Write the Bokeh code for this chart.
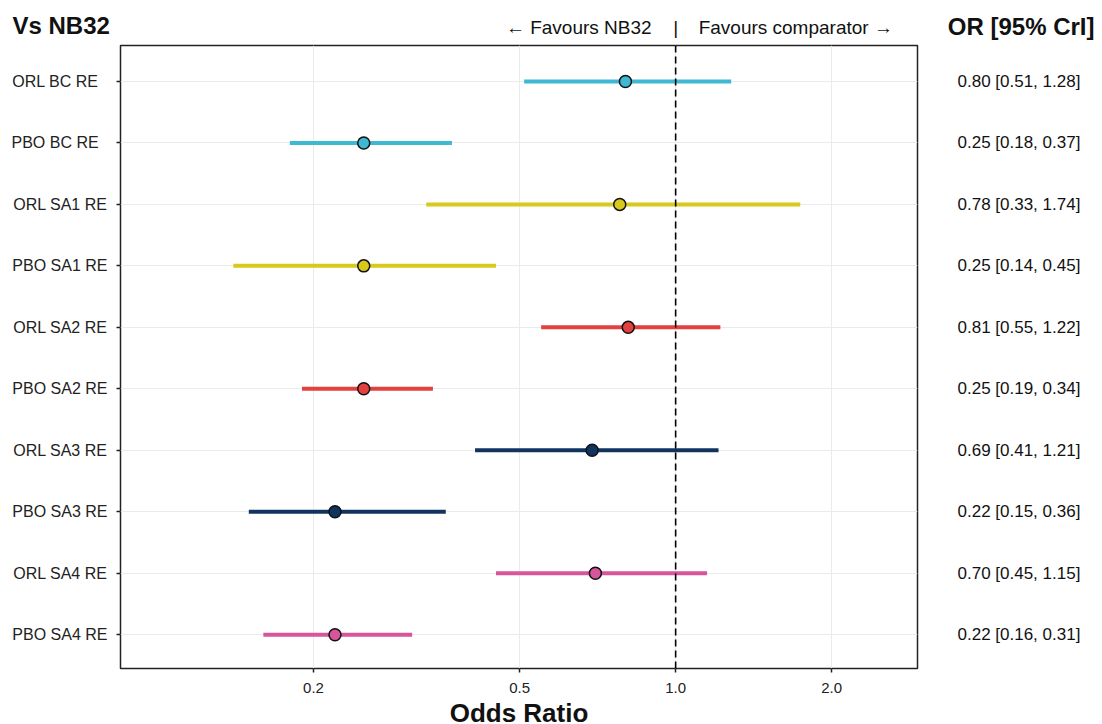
import math
from bokeh.plotting import figure
from bokeh.layouts import column, row
from bokeh.models import Range1d, FixedTicker, ColumnDataSource, Span
from bokeh.core.properties import value
from bokeh.embed import file_html
from bokeh.resources import INLINE

labels = ["ORL BC RE  ", "PBO BC RE  ", "ORL SA1 RE", "PBO SA1 RE", "ORL SA2 RE",
          "PBO SA2 RE", "ORL SA3 RE", "PBO SA3 RE", "ORL SA4 RE", "PBO SA4 RE"]
or_vals = [0.80, 0.25, 0.78, 0.25, 0.81, 0.25, 0.69, 0.22, 0.70, 0.22]
lo_vals = [0.51, 0.18, 0.33, 0.14, 0.55, 0.19, 0.41, 0.15, 0.45, 0.16]
hi_vals = [1.28, 0.37, 1.74, 0.45, 1.22, 0.34, 1.21, 0.36, 1.15, 0.31]
groups = ["BC", "BC", "SA1", "SA1", "SA2", "SA2", "SA3", "SA3", "SA4", "SA4"]
group_colors = {"BC": "#3FB8D2", "SA1": "#D8CA1C", "SA2": "#E3413F",
                "SA3": "#10345F", "SA4": "#D6559B"}
x_ticks = [0.2, 0.5, 1.0, 2.0]
x_tick_labels = ["0.2", "0.5", "1.0", "2.0"]
title_text = "Vs NB32"
col_header = "OR [95% CrI]"
left_header = "\u2190 Favours NB32"
right_header = "Favours comparator \u2192"
x_title = "Odds Ratio"

FONT = "Liberation Sans"
n = len(labels)
ys = [n - i for i in range(n)]

# geometry (pixels)
TOTAL_W, HEAD_H, MAIN_H, FOOT_H = 1100, 43, 658, 23
B_LEFT, B_RIGHT_MAIN, B_TOP, B_BOTTOM = 120, 2, 2, 33
MAIN_W = 919
RIGHT_W = TOTAL_W - MAIN_W
FRAME_W = MAIN_W - B_LEFT - B_RIGHT_MAIN

X_LO, X_HI = 0.0848, 2.93
Y_LO, Y_HI = 0.45, n + 0.585

src = ColumnDataSource(dict(
    y=ys, orv=or_vals, lo=lo_vals, hi=hi_vals,
    color=[group_colors[g] for g in groups],
    txt=[f"{o:.2f} [{l:.2f}, {h:.2f}]" for o, l, h in zip(or_vals, lo_vals, hi_vals)],
))

# ---------------- main plot ----------------
p = figure(width=MAIN_W, height=MAIN_H, x_axis_type="log",
           x_range=Range1d(X_LO, X_HI), y_range=Range1d(Y_LO, Y_HI),
           output_backend="svg", toolbar_location=None,
           min_border_left=B_LEFT, min_border_right=B_RIGHT_MAIN,
           min_border_top=B_TOP, min_border_bottom=B_BOTTOM)
p.outline_line_color = "#222222"
p.outline_line_width = 1.5
p.border_fill_color = "white"

p.xaxis.ticker = FixedTicker(ticks=x_ticks)
p.xaxis.major_label_overrides = {t: s for t, s in zip(x_ticks, x_tick_labels)}
p.yaxis.ticker = FixedTicker(ticks=ys)
p.yaxis.major_label_overrides = {y: l for y, l in zip(ys, labels)}
for ax in (p.xaxis[0], p.yaxis[0]):
    ax.axis_line_color = None
    ax.major_tick_line_color = "#222222"
    ax.major_tick_line_width = 1.5
    ax.major_tick_out = 4
    ax.major_tick_in = 0
    ax.minor_tick_line_color = None
    ax.major_label_text_font = FONT
    ax.major_label_text_color = "#222222"
p.yaxis.major_label_text_font_size = "16px"
p.xaxis.major_label_text_font_size = "15px"
p.xaxis.major_label_standoff = 10
p.yaxis.major_label_standoff = 9

p.xgrid.ticker = FixedTicker(ticks=x_ticks)
p.xgrid.grid_line_color = "#EBEBEB"
p.ygrid.ticker = FixedTicker(ticks=ys)
p.ygrid.grid_line_color = "#EBEBEB"

p.add_layout(Span(location=1.0, dimension="height", line_color="black",
                  line_dash="7 4", line_width=1.6))
p.segment(x0="lo", x1="hi", y0="y", y1="y", source=src, line_color="color", line_width=4)
p.scatter(x="orv", y="y", source=src, size=12, fill_color="color",
          line_color="#111111", line_width=1.5)

# ---------------- right column (values) ----------------
r = figure(width=RIGHT_W, height=MAIN_H,
           x_range=Range1d(0, RIGHT_W), y_range=p.y_range,
           output_backend="svg", toolbar_location=None,
           x_axis_location=None, y_axis_location=None,
           min_border_left=0, min_border_right=0,
           min_border_top=B_TOP, min_border_bottom=B_BOTTOM)
r.outline_line_color = None
r.grid.visible = False
r.text(x=38, y="y", text="txt", source=src, text_font=value(FONT),
       text_font_size="17px", text_color="#111111",
       text_baseline="middle", text_align="left")

# ---------------- header row ----------------
lpd = math.log10(X_HI / X_LO) / FRAME_W  # decades per pixel
h_lo = 10 ** (math.log10(X_LO) - B_LEFT * lpd)
h_hi = 10 ** (math.log10(X_HI) + (TOTAL_W - B_LEFT - FRAME_W) * lpd)
h = figure(width=TOTAL_W, height=HEAD_H, x_axis_type="log",
           x_range=Range1d(h_lo, h_hi), y_range=Range1d(0, HEAD_H),
           output_backend="svg", toolbar_location=None,
           x_axis_location=None, y_axis_location=None,
           min_border_left=0, min_border_right=0, min_border_top=0, min_border_bottom=0)
h.outline_line_color = None
h.grid.visible = False

def px(x_pixel):
    return 10 ** (math.log10(h_lo) + x_pixel * lpd)

h.text(x=[px(12)], y=[HEAD_H - 25], text=[title_text], text_font=value(FONT),
       text_font_style="bold", text_font_size="24px", text_color="#111111",
       text_baseline="middle", text_align="left")
h.text(x=[px(1094)], y=[HEAD_H - 26], text=[col_header], text_font=value(FONT),
       text_font_style="bold", text_font_size="24px", text_color="#111111",
       text_baseline="middle", text_align="right")
h.text(x=[1.0], y=[HEAD_H - 27], text=["|"], text_font=value(FONT),
       text_font_size="19px", text_color="#111111",
       text_baseline="middle", text_align="center")
h.text(x=[1.0], x_offset=-24, y=[HEAD_H - 27], text=[left_header], text_font=value(FONT),
       text_font_size="19px", text_color="#111111",
       text_baseline="middle", text_align="right")
h.text(x=[1.0], x_offset=23, y=[HEAD_H - 27], text=[right_header], text_font=value(FONT),
       text_font_size="19px", text_color="#111111",
       text_baseline="middle", text_align="left")

# ---------------- footer (x-axis title) ----------------
f = figure(width=TOTAL_W, height=FOOT_H,
           x_range=Range1d(0, TOTAL_W), y_range=Range1d(0, FOOT_H),
           output_backend="svg", toolbar_location=None,
           x_axis_location=None, y_axis_location=None,
           min_border_left=0, min_border_right=0, min_border_top=0, min_border_bottom=0)
f.outline_line_color = None
f.grid.visible = False
f.text(x=[B_LEFT + FRAME_W / 2], y=[FOOT_H - 11], text=[x_title], text_font=value(FONT),
       text_font_style="bold", text_font_size="26px", text_color="#111111",
       text_baseline="middle", text_align="center")

layout = column(h, row(p, r, spacing=0), f, spacing=0)
open("out.html", "w").write(file_html(layout, INLINE))
